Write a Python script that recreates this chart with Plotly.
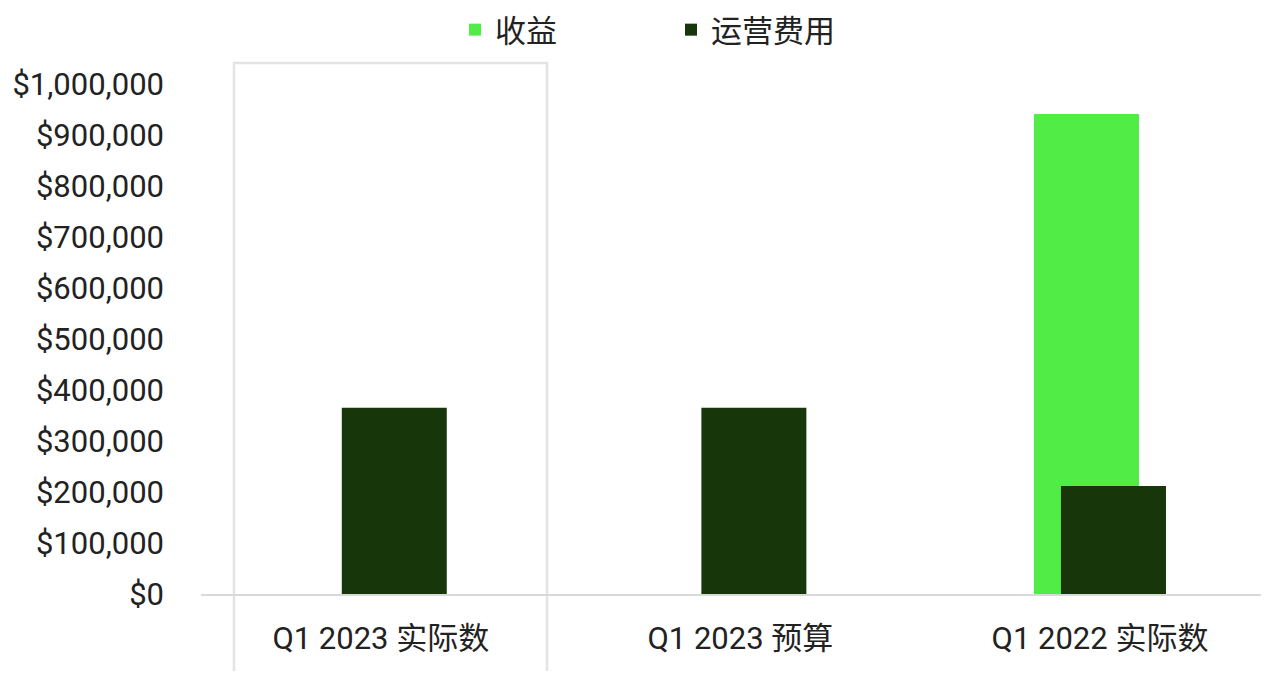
import plotly.graph_objects as go

categories = ["Q1 2023 实际数", "Q1 2023 预算", "Q1 2022 实际数"]
revenue = [None, None, 941000]
op_expense = [365000, 365000, 212000]
y_tick_vals = [0, 100000, 200000, 300000, 400000, 500000, 600000, 700000, 800000, 900000, 1000000]
y_tick_text = ["$0", "$100,000", "$200,000", "$300,000", "$400,000", "$500,000",
               "$600,000", "$700,000", "$800,000", "$900,000", "$1,000,000"]

FONT = "Roboto, 'Noto Sans CJK SC', sans-serif"
TEXT = "#222222"

fig = go.Figure()
fig.add_trace(go.Bar(
    x=categories, y=revenue, name="收益",
    marker=dict(color="#52EC47", line=dict(width=0)),
    width=0.292, offset=-0.1836,
))
fig.add_trace(go.Bar(
    x=categories, y=op_expense, name="运营费用",
    marker=dict(color="#17370A", line=dict(width=0)),
    width=0.292, offset=-0.1085,
))

# page body adds an 8px margin; figure sized to fit the window without overflow
W, H = 1261, 663
L, R, T, B = 193, 0, 55, 77
pw = W - L - R

fig.add_shape(
    type="rect", xref="paper", yref="paper",
    x0=(226 - L) / pw, x1=(539 - L) / pw, y0=-0.3, y1=1.0,
    line=dict(color="#e3e3e3", width=2.5), fillcolor="rgba(0,0,0,0)",
    layer="below",
)

fig.update_layout(
    width=W, height=H,
    margin=dict(l=L, r=R, t=T, b=B, pad=0),
    barmode="overlay",
    plot_bgcolor="white", paper_bgcolor="white",
    font=dict(family=FONT, size=31, color=TEXT),
    showlegend=True,
    legend=dict(
        orientation="h", xref="container", yref="container",
        x=447 / W, xanchor="left", y=1 - 22 / H, yanchor="middle",
        font=dict(size=31, color=TEXT), entrywidth=171, entrywidthmode="pixels",
        bgcolor="rgba(0,0,0,0)", traceorder="normal",
    ),
    xaxis=dict(
        type="category", range=[-0.5, 2.47],
        showline=True, linecolor="#d9d9d9", linewidth=1.5,
        showgrid=False, ticks="", ticklabelstandoff=16,
        tickfont=dict(size=31, color=TEXT),
    ),
    yaxis=dict(
        range=[0, 1041176], tickvals=y_tick_vals, ticktext=y_tick_text,
        showgrid=False, zeroline=False, showline=False, ticks="",
        ticklabelstandoff=36,
        tickfont=dict(size=31, color=TEXT),
    ),
)

fig.write_html("out.html")
